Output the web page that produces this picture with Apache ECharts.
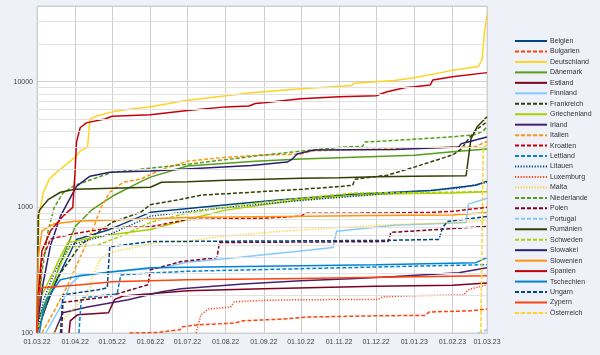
<!DOCTYPE html>
<html><head><meta charset="utf-8">
<script src="https://cdn.jsdelivr.net/npm/echarts@6/dist/echarts.min.js"></script>
<style>html,body{margin:0;padding:0;background:#eef1f7;}#c{width:600px;height:355px;}</style>
</head><body><div id="c"></div>
<script>
const countries = ['Belgien','Bulgarien','Deutschland','Dänemark','Estland','Finnland','Frankreich','Griechenland','Irland','Italien','Kroatien','Lettland','Litauen','Luxemburg','Malta','Niederlande','Polen','Portugal','Rumänien','Schweden','Slowakei','Slowenien','Spanien','Tschechien','Ungarn','Zypern','Österreich'];
const yTicks = [100, 1000, 10000];
const minorGrid = [200,300,400,500,600,700,800,900,2000,3000,4000,5000,6000,7000,8000,9000,20000,30000];

const belgien = [['2022-03-01',100],['2022-03-08',160],['2022-03-17',265],['2022-04-02',555],['2022-04-29',667],['2022-06-01',912],['2022-07-12',1000],['2022-08-15',1080],['2022-09-15',1150],['2022-10-15',1210],['2022-11-13',1270],['2022-12-16',1318],['2023-01-15',1360],['2023-02-06',1445],['2023-02-20',1500],['2023-03-01',1615]];
const bulgarien = [['2022-05-15',100],['2022-06-06',101],['2022-06-25',106],['2022-06-27',112],['2022-07-09',116],['2022-08-08',120],['2022-08-15',125],['2022-09-16',129],['2022-10-06',134],['2022-12-01',137],['2023-01-10',138],['2023-01-13',147],['2023-02-15',150],['2023-03-01',155]];
const deutschland = [['2022-03-01',100],['2022-03-02',450],['2022-03-03',900],['2022-03-06',1300],['2022-03-11',1675],['2022-03-17',1905],['2022-04-01',2512],['2022-04-05',2805],['2022-04-11',3020],['2022-04-13',5060],['2022-04-19',5350],['2022-05-01',5750],['2022-05-18',6080],['2022-06-01',6310],['2022-06-15',6670],['2022-06-28',7060],['2022-07-12',7310],['2022-08-22',8150],['2022-10-02',8800],['2022-11-11',9300],['2022-11-13',9700],['2022-12-16',10200],['2023-01-01',10750],['2023-02-01',12300],['2023-02-22',13200],['2023-02-25',15000],['2023-02-27',25000],['2023-03-01',34000]];
const daenemark = [['2022-03-01',120],['2022-03-08',180],['2022-03-15',260],['2022-03-22',405],['2022-04-01',705],['2022-04-15',964],['2022-05-01',1225],['2022-05-25',1615],['2022-06-01',1740],['2022-07-01',2130],['2022-08-25',2330],['2022-10-01',2420],['2022-11-01',2480],['2023-01-01',2600],['2023-02-01',2770],['2023-03-01',2910]];
const estland = [['2022-03-27',100],['2022-03-28',125],['2022-04-03',140],['2022-04-28',145],['2022-05-03',185],['2022-05-10',197],['2022-06-01',205],['2022-07-01',217],['2022-09-01',225],['2022-12-01',235],['2023-02-01',240],['2023-03-01',250]];
const finnland = [['2022-03-08',100],['2022-03-20',161],['2022-03-28',242],['2022-04-05',290],['2022-05-02',307],['2022-06-10',331],['2022-07-01',365],['2022-08-01',390],['2022-09-01',420],['2022-10-01',450],['2022-10-27',478],['2022-10-30',645],['2022-12-16',720],['2023-02-12',759],['2023-02-14',1060],['2023-03-01',1180]];
const frankreich = [['2022-03-01',100],['2022-03-11',194],['2022-03-20',300],['2022-03-28',384],['2022-04-05',500],['2022-05-01',760],['2022-05-24',912],['2022-06-01',1050],['2022-06-26',1159],['2022-07-12',1250],['2022-08-22',1318],['2022-10-02',1393],['2022-11-04',1470],['2022-11-12',1500],['2022-11-14',1675],['2022-12-10',1800],['2023-01-01',2090],['2023-02-01',2610],['2023-02-08',2900],['2023-02-14',3500],['2023-02-21',4200],['2023-03-01',4790]];
const griechenland = [['2022-03-01',120],['2022-03-03',184],['2022-03-14',302],['2022-03-20',405],['2022-03-26',525],['2022-03-31',535],['2022-04-19',586],['2022-06-01',667],['2022-07-01',800],['2022-08-01',950],['2022-09-01',1050],['2022-10-01',1150],['2022-11-01',1220],['2022-12-01',1270],['2023-01-01',1290],['2023-02-01',1300],['2023-03-01',1330]];
const irland = [['2022-03-15',100],['2022-03-22',145],['2022-04-11',161],['2022-05-14',184],['2022-06-10',213],['2022-06-26',225],['2022-08-15',245],['2022-10-01',260],['2022-11-15',272],['2022-12-16',281],['2023-02-06',302],['2023-03-01',331]];
const italien = [['2022-03-05',100],['2022-03-15',150],['2022-03-25',230],['2022-04-05',400],['2022-04-16',700],['2022-04-22',1000],['2022-04-29',1318],['2022-05-10',1585],['2022-05-24',1675],['2022-06-10',2000],['2022-07-01',2330],['2022-08-01',2500],['2022-09-01',2610],['2022-10-01',2650],['2022-10-10',2810],['2022-12-01',2910],['2023-02-01',3020],['2023-02-20',3050],['2023-03-01',3340]];
const kroatien = [['2022-03-01',100],['2022-03-02',150],['2022-03-05',380],['2022-03-12',560],['2022-04-01',620],['2022-05-01',690],['2022-06-01',700],['2022-07-01',800],['2022-09-01',820],['2022-10-01',850],['2022-10-05',896],['2022-12-01',900],['2023-01-15',912],['2023-02-01',930],['2023-03-01',1000]];
const lettland = [['2022-04-04',100],['2022-04-06',190],['2022-04-25',200],['2022-05-05',205],['2022-05-08',290],['2022-06-01',300],['2022-07-01',310],['2022-09-01',320],['2022-12-01',335],['2023-03-01',350]];
const litauen = [['2022-03-01',100],['2022-03-06',180],['2022-03-15',300],['2022-03-28',500],['2022-05-01',620],['2022-06-01',850],['2022-07-12',950],['2022-09-15',1100],['2022-12-16',1300],['2023-02-06',1420],['2023-03-01',1580]];
const luxemburg = [['2022-07-08',100],['2022-07-12',140],['2022-07-18',155],['2022-08-05',161],['2022-08-08',177],['2022-09-01',182],['2022-10-01',184],['2022-12-03',185],['2022-12-06',194],['2023-01-01',198],['2023-02-10',201],['2023-02-14',221],['2023-03-01',242]];
const malta = [['2022-03-15',100],['2022-03-22',127],['2022-03-30',153],['2022-04-13',213],['2022-04-14',265],['2022-04-21',384],['2022-04-29',437],['2022-06-10',534],['2022-07-01',540],['2022-08-01',590],['2022-09-01',630],['2022-10-01',660],['2022-11-01',690],['2022-12-16',730],['2023-02-01',750],['2023-03-01',790]];
const niederlande = [['2022-03-01',120],['2022-03-05',300],['2022-03-10',650],['2022-03-15',1000],['2022-03-22',1300],['2022-04-01',1500],['2022-05-01',1900],['2022-06-01',2050],['2022-07-01',2200],['2022-08-25',2560],['2022-10-01',2800],['2022-11-04',3020],['2022-11-20',3050],['2022-11-22',3310],['2022-12-15',3400],['2023-02-01',3640],['2023-02-18',3770],['2023-02-25',4000],['2023-03-01',4350]];
const polen = [['2022-03-21',100],['2022-03-22',175],['2022-04-27',194],['2022-05-30',242],['2022-06-01',319],['2022-06-26',370],['2022-07-25',398],['2022-07-27',525],['2022-12-11',534],['2022-12-13',631],['2023-03-01',705]];
const portugal = [['2023-02-22',100],['2023-03-01',106]];
const rumaenien = [['2022-03-01',100],['2022-03-02',850],['2022-03-03',950],['2022-03-10',1150],['2022-03-20',1318],['2022-04-01',1390],['2022-05-01',1420],['2022-06-01',1445],['2022-06-10',1585],['2022-07-01',1600],['2022-08-01',1640],['2022-09-01',1675],['2022-10-01',1700],['2022-11-01',1720],['2022-12-01',1750],['2023-01-01',1770],['2023-02-12',1780],['2023-02-14',2500],['2023-02-16',3500],['2023-02-21',4370],['2023-03-01',5250]];
const schweden = [['2022-03-01',100],['2022-03-10',200],['2022-03-20',350],['2022-03-28',488],['2022-04-19',500],['2022-05-10',600],['2022-06-01',760],['2022-07-01',900],['2022-08-01',1000],['2022-09-01',1100],['2022-10-01',1180],['2022-11-13',1300],['2022-12-15',1310],['2023-02-01',1318],['2023-03-01',1340]];
const slowakei = [['2022-03-01',110],['2022-03-06',250],['2022-03-12',500],['2022-03-20',850],['2022-04-02',1470],['2022-04-13',1770],['2022-04-29',1905],['2022-06-01',1950],['2022-06-26',2010],['2022-08-22',2150],['2022-09-20',2290],['2022-09-24',2420],['2022-09-28',2660],['2022-10-08',2810],['2022-10-12',2860],['2022-12-16',2880],['2023-02-06',3020],['2023-02-08',3200],['2023-03-01',3630]];
const slowenien = [['2022-03-01',100],['2022-03-02',400],['2022-03-05',650],['2022-03-15',740],['2022-04-01',775],['2022-07-01',830],['2022-12-01',860],['2023-02-01',870],['2023-03-01',910]];
const spanien = [['2022-03-01',100],['2022-03-02',200],['2022-03-05',450],['2022-03-12',650],['2022-03-22',850],['2022-03-30',1000],['2022-04-01',2000],['2022-04-02',3300],['2022-04-05',4300],['2022-04-10',4700],['2022-04-25',5050],['2022-05-01',5300],['2022-06-01',5450],['2022-07-01',5900],['2022-08-01',6300],['2022-08-20',6400],['2022-08-25',6700],['2022-09-01',6800],['2022-10-01',7310],['2022-11-01',7600],['2022-12-01',7720],['2022-12-10',8320],['2022-12-25',9000],['2023-01-01',9120],['2023-01-14',9400],['2023-01-16',10300],['2023-02-01',10960],['2023-03-01',11800]];
const tschechien = [['2022-03-03',100],['2022-03-06',150],['2022-03-10',194],['2022-03-20',265],['2022-04-01',281],['2022-05-01',307],['2022-06-01',331],['2022-09-01',340],['2022-12-01',350],['2023-02-20',363],['2023-03-01',398]];
const ungarn = [['2022-03-20',100],['2022-03-22',201],['2022-04-20',221],['2022-04-27',229],['2022-04-29',487],['2022-06-01',534],['2022-12-01',545],['2023-01-21',555],['2023-01-24',692],['2023-01-28',773],['2023-03-01',847]];
const zypern = [['2022-03-01',100],['2022-03-02',200],['2022-03-05',229],['2022-04-01',240],['2022-05-01',256],['2022-07-01',265],['2022-10-01',272],['2023-01-01',280],['2023-03-01',285]];
const oesterreich = [['2023-02-24',100],['2023-02-26',3000],['2023-03-01',3150]];

const seriesData = [belgien,bulgarien,deutschland,daenemark,estland,finnland,frankreich,griechenland,irland,italien,kroatien,lettland,litauen,luxemburg,malta,niederlande,polen,portugal,rumaenien,schweden,slowakei,slowenien,spanien,tschechien,ungarn,zypern,oesterreich];
const colors = ['#004586','#ff420e','#ffd320','#579d1c','#7e0021','#83caff','#314004','#aecf00','#4b1f6f','#ff950e','#c5000b','#0084d1','#004586','#ff420e','#ffd320','#579d1c','#7e0021','#83caff','#314004','#aecf00','#2b2070','#ff950e','#c5000b','#0084d1','#004586','#ff420e','#ffd320'];
const styles = ['solid','dashed','solid','solid','solid','solid','dashed','solid','solid','dashed','dashed','dashed','dotted','dotted','dotted','dashed','dashed','dashed','solid','dashed','solid','solid','solid','solid','dashed','solid','dashed'];

function lineType(s){ if(s==='dashed') return [4,2]; if(s==='dotted') return [1.2,1.6]; return 'solid'; }

const series = countries.map((name,i)=>({
  name, type:'line', data: seriesData[i], symbol:'none', showSymbol:false, z:3,
  lineStyle:{color:colors[i], width:1.5, type:lineType(styles[i])},
  itemStyle:{color:colors[i]}, animation:false
}));
series.unshift({
  name:'_grid', type:'line', data:[], z:1, silent:true, animation:false,
  markLine:{silent:true, symbol:['none','none'], label:{show:false}, animation:false,
    lineStyle:{color:'#e2e2e2', type:'solid', width:1},
    data: minorGrid.map(v=>({yAxis:v}))}
});

const chart = echarts.init(document.getElementById('c'), null, {renderer:'canvas'});
chart.setOption({
  backgroundColor:'#eef1f7',
  animation:false,
  textStyle:{fontFamily:'Liberation Sans, Arial, sans-serif'},
  grid:{left:37, right:113, top:6, bottom:22, show:true, backgroundColor:'#ffffff', borderColor:'#cfcfcf', borderWidth:1},
  legend:{
    data: countries, orient:'vertical', left:514, top:37, padding:0,
    itemWidth:32, itemHeight:8, itemGap:2.46,
    itemStyle:{opacity:0},
    textStyle:{fontSize:7, color:'#333', lineHeight:8, padding:[0,0,0,-2]},
    selectedMode:false
  },
  xAxis:{
    type:'time', min:'2022-03-01', max:'2023-03-01', splitNumber:12,
    axisLine:{lineStyle:{color:'#cfcfcf'}}, axisTick:{show:false},
    splitLine:{show:true, lineStyle:{color:'#cfcfcf'}},
    axisLabel:{formatter:'{dd}.{MM}.{yy}', fontSize:7, color:'#444', margin:6, interval:0, showMinLabel:true, showMaxLabel:true, hideOverlap:false}
  },
  yAxis:{
    type:'log', logBase:10, min:100, max:40000,
    axisLine:{show:false}, axisTick:{show:false},
    splitLine:{show:true, lineStyle:{color:'#cfcfcf'}},
    axisLabel:{fontSize:7, color:'#444', margin:4, showMaxLabel:false,
      formatter:v=> yTicks.indexOf(Math.round(v))>=0 ? String(Math.round(v)) : ''}
  },
  series
});
</script></body></html>
